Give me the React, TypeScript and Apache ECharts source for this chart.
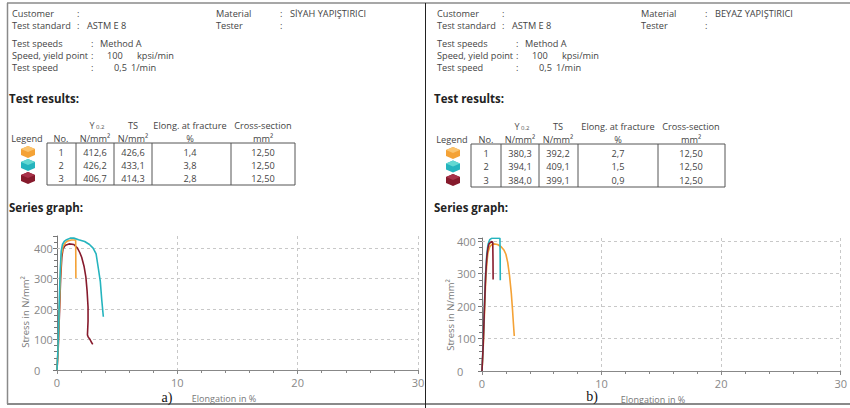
import React, { useEffect, useRef } from "react";
import * as echarts from "echarts";

// ---------- data ----------
const materialA = "SİYAH YAPIŞTIRICI";
const materialB = "BEYAZ YAPIŞTIRICI";
const sampleNos = ["1", "2", "3"];
const yieldA = ["412,6", "426,2", "406,7"];
const tsA = ["426,6", "433,1", "414,3"];
const elongA = ["1,4", "3,8", "2,8"];
const crossA = ["12,50", "12,50", "12,50"];
const yieldB = ["380,3", "394,1", "384,0"];
const tsB = ["392,2", "409,1", "399,1"];
const elongB = ["2,7", "1,5", "0,9"];
const crossB = ["12,50", "12,50", "12,50"];
const seriesColors = ["#F4A236", "#25B4BE", "#861A2C"];
const seriesTop = ["#FBC46E", "#62D8D2", "#A8324A"];
const xTicks = [0, 10, 20, 30];
const yGridValues = [100, 200, 300, 400];

// stress-strain curves [elongation %, stress N/mm²]
const orangeA = [[0,0],[0.08,60],[0.15,140],[0.22,230],[0.3,320],[0.38,380],[0.5,405],[0.7,418],[0.9,424],[1.2,427],[1.45,427],[1.55,426],[1.56,380],[1.57,302]];
const tealA = [[0,0],[0.07,60],[0.14,150],[0.2,240],[0.27,330],[0.35,390],[0.45,412],[0.6,422],[0.8,428],[1.1,433],[1.4,433],[1.8,428],[2.3,422],[2.7,412],[3.0,400],[3.25,381],[3.45,330],[3.6,290],[3.72,230],[3.85,175]];
const redA = [[0,0],[0.1,70],[0.2,180],[0.3,300],[0.4,370],[0.5,398],[0.7,410],[1.0,414],[1.4,412],[1.7,400],[1.9,385],[2.05,370],[2.25,340],[2.4,305],[2.5,260],[2.58,207],[2.58,160],[2.53,115],[2.6,108],[2.75,100],[2.85,92],[2.97,84]];
const orangeB = [[0,0],[0.1,70],[0.2,170],[0.3,270],[0.4,330],[0.5,365],[0.65,383],[0.85,391],[1.0,392],[1.3,390],[1.6,383],[1.85,372],[2.0,360],[2.15,335],[2.3,295],[2.45,240],[2.55,190],[2.63,145],[2.7,108]];
const tealB = [[0,0],[0.1,90],[0.2,200],[0.3,300],[0.4,360],[0.5,390],[0.65,405],[0.8,409],[1.5,409],[1.52,350],[1.53,280]];
const redB = [[0,0],[0.1,80],[0.2,190],[0.3,290],[0.4,350],[0.5,380],[0.6,393],[0.8,399],[0.9,397],[0.92,340],[0.93,282]];

const FONT = "'Open Sans', 'Noto Sans', sans-serif";
const TXT = "#444";
const FS = 9.2;

function txt(x: number, y: number, s: string, opt: any = {}) {
  return {
    type: "text",
    x,
    y,
    silent: true,
    rotation: opt.rotation || 0,
    style: {
      text: s,
      fill: opt.fill || TXT,
      font: `${opt.bold ? "bold " : ""}${opt.size || FS}px ${opt.family || FONT}`,
      textAlign: opt.align || "left",
      textVerticalAlign: "middle",
      verticalAlign: "middle",
    },
  };
}

function cube(cx: number, cy: number, c: string, top: string) {
  return [
    {
      type: "polygon",
      silent: true,
      shape: { points: [[cx, cy - 6], [cx + 7, cy - 3], [cx + 7, cy + 3], [cx, cy + 6], [cx - 7, cy + 3], [cx - 7, cy - 3]] },
      style: { fill: c },
    },
    {
      type: "polygon",
      silent: true,
      shape: { points: [[cx, cy - 6], [cx + 7, cy - 3], [cx, cy], [cx - 7, cy - 3]] },
      style: { fill: top },
    },
  ];
}

function panel(ox: number, material: string, t: any, tbl: any) {
  const g: any[] = [];
  g.push(txt(ox + 12, 13, "Customer"));
  g.push(txt(ox + 77, 13, ":"));
  g.push(txt(ox + 12, 25, "Test standard"));
  g.push(txt(ox + 77, 25, ":"));
  g.push(txt(ox + 87, 25, "ASTM E 8"));
  g.push(txt(ox + 216, 13, "Material"));
  g.push(txt(ox + 280, 13, ":"));
  g.push(txt(ox + 290, 13, material));
  g.push(txt(ox + 216, 25, "Tester"));
  g.push(txt(ox + 280, 25, ":"));
  g.push(txt(ox + 12, 43, "Test speeds"));
  g.push(txt(ox + 91, 43, ":"));
  g.push(txt(ox + 100, 43, "Method A"));
  g.push(txt(ox + 12, 55, "Speed, yield point"));
  g.push(txt(ox + 91, 55, ":"));
  g.push(txt(ox + 107, 55, "100"));
  g.push(txt(ox + 137, 55, "kpsi/min"));
  g.push(txt(ox + 12, 67, "Test speed"));
  g.push(txt(ox + 91, 67, ":"));
  g.push(txt(ox + 114, 67, "0,5"));
  g.push(txt(ox + 131, 67, "1/min"));
  g.push(txt(ox + 9, 98, "Test results:", { bold: true, size: 11.5, fill: "#222" }));
  g.push(txt(ox + 9, 207, "Series graph:", { bold: true, size: 11.5, fill: "#222" }));

  // table
  const c = tbl.centers;
  const h1 = tbl.top - 18, h2 = tbl.top - 5;
  g.push(txt(c[1] - 3, h1, "Y", { align: "center", size: 9, fill: "#555" }));
  g.push(txt(c[1] + 1, h1 + 2, "0.2", { align: "left", size: 6, fill: "#555" }));
  g.push(txt(c[2], h1, "TS", { align: "center" }));
  g.push(txt(c[3], h1, "Elong. at fracture", { align: "center" }));
  g.push(txt(c[4], h1, "Cross-section", { align: "center" }));
  g.push(txt(ox + 27, h2, "Legend", { align: "center" }));
  g.push(txt(c[0], h2, "No.", { align: "center" }));
  g.push(txt(c[1], h2, "N/mm²", { align: "center" }));
  g.push(txt(c[2], h2, "N/mm²", { align: "center" }));
  g.push(txt(c[3], h2, "%", { align: "center" }));
  g.push(txt(c[4], h2, "mm²", { align: "center" }));
  g.push({
    type: "rect",
    silent: true,
    shape: { x: tbl.left, y: tbl.top, width: tbl.right - tbl.left, height: tbl.bottom - tbl.top },
    style: { fill: "none", stroke: "#555", lineWidth: 1 },
  });
  tbl.seps.forEach((sx: number) =>
    g.push({ type: "line", silent: true, shape: { x1: sx, y1: tbl.top, x2: sx, y2: tbl.bottom }, style: { stroke: "#555", lineWidth: 1 } })
  );
  sampleNos.forEach((no, i) => {
    const ry = tbl.top + 9 + i * tbl.rowH;
    g.push(...cube(ox + 28, ry, seriesColors[i], seriesTop[i]));
    g.push(txt(c[0], ry, no, { align: "center" }));
    g.push(txt(c[1], ry, t.y[i], { align: "center" }));
    g.push(txt(c[2], ry, t.ts[i], { align: "center" }));
    g.push(txt(c[3], ry, t.el[i], { align: "center" }));
    g.push(txt(c[4], ry, t.cs[i], { align: "center" }));
  });
  return g;
}

export default function App() {
  const ref = useRef<HTMLDivElement>(null);
  useEffect(() => {
    if (!ref.current) return;
    const chart = echarts.init(ref.current, null, { renderer: "svg" });

    const graphic: any[] = [];
    // borders
    graphic.push({ type: "line", silent: true, shape: { x1: 7.5, y1: 3, x2: 7.5, y2: 404 }, style: { stroke: "#8a8a8a", lineWidth: 1.5 } });
    graphic.push({ type: "line", silent: true, shape: { x1: 7, y1: 3, x2: 850, y2: 3 }, style: { stroke: "#8a8a8a", lineWidth: 1.5 } });
    graphic.push({ type: "line", silent: true, shape: { x1: 7, y1: 404, x2: 850, y2: 404 }, style: { stroke: "#8a8a8a", lineWidth: 2 } });
    graphic.push({ type: "line", silent: true, shape: { x1: 425.5, y1: 3, x2: 425.5, y2: 408 }, style: { stroke: "#222", lineWidth: 1 } });

    graphic.push(
      ...panel(0, materialA, { y: yieldA, ts: tsA, el: elongA, cs: crossA }, {
        left: 47, right: 295, top: 143, bottom: 185, rowH: 13,
        seps: [76, 114, 152, 231], centers: [61, 95, 133, 190, 263],
      })
    );
    graphic.push(
      ...panel(425, materialB, { y: yieldB, ts: tsB, el: elongB, cs: crossB }, {
        left: 471, right: 725, top: 144, bottom: 187, rowH: 13.5,
        seps: [501, 539, 578, 658], centers: [486, 520, 558, 618, 691],
      })
    );
    // axis names & captions
    graphic.push(txt(25, 312, "Stress in N/mm²", { rotation: Math.PI / 2, align: "center", size: 9.5, fill: "#777" }));
    graphic.push(txt(450, 315, "Stress in N/mm²", { rotation: Math.PI / 2, align: "center", size: 9.5, fill: "#777" }));
    graphic.push(txt(224, 398, "Elongation in %", { align: "center", size: 9, fill: "#777" }));
    graphic.push(txt(653, 399, "Elongation in %", { align: "center", size: 9, fill: "#777" }));
    graphic.push(txt(167, 397, "a)", { align: "center", size: 14, fill: "#111", family: "'Liberation Serif', 'DejaVu Serif', serif" }));
    graphic.push(txt(592, 396, "b)", { align: "center", size: 14, fill: "#111", family: "'Liberation Serif', 'DejaVu Serif', serif" }));

    const xAxisBase = (gi: number) => ({
      type: "value",
      gridIndex: gi,
      min: xTicks[0],
      max: xTicks[xTicks.length - 1],
      interval: 10,
      axisLine: { show: true, lineStyle: { color: "#888", width: 1 } },
      axisTick: { show: true, length: 4, lineStyle: { color: "#888" } },
      minorTick: { show: true, splitNumber: 5, length: 3, lineStyle: { color: "#888" } },
      splitLine: { show: true, lineStyle: { color: "#c8c8c8", type: [3, 3] } },
      axisLabel: { color: "#888", fontSize: 11, fontFamily: FONT, margin: 7 },
    });
    const yAxisBase = (gi: number, max: number, margin: number) => ({
      type: "value",
      gridIndex: gi,
      min: 0,
      max,
      interval: 100,
      axisLine: { show: true, lineStyle: { color: "#777", width: 1 } },
      axisTick: { show: true, length: 4, lineStyle: { color: "#777" } },
      minorTick: { show: true, splitNumber: 5, length: 3, lineStyle: { color: "#777" } },
      splitLine: { show: false },
      axisLabel: { color: "#888", fontSize: 11, fontFamily: FONT, margin, align: "left", showMaxLabel: false },
    });

    const line = (data: number[][], color: string, xi: number, grid = false) => ({
      type: "line",
      xAxisIndex: xi,
      yAxisIndex: xi,
      data,
      showSymbol: false,
      symbol: "none",
      lineStyle: { color, width: 1.6 },
      z: 5,
      markLine: grid
        ? {
            silent: true,
            symbol: "none",
            label: { show: false },
            lineStyle: { color: "#c8c8c8", type: [3, 3], width: 1 },
            data: yGridValues.map((v) => ({ yAxis: v })),
            z: 1,
          }
        : undefined,
    });

    chart.setOption({
      animation: false,
      backgroundColor: "#fff",
      grid: [
        { left: 57, top: 236, width: 361, height: 134 },
        { left: 482, top: 238, width: 370, height: 133 },
      ],
      xAxis: [xAxisBase(0), xAxisBase(1)],
      yAxis: [yAxisBase(0, 440, 23), yAxisBase(1, 410, 25)],
      series: [
        line(redA, seriesColors[2], 0, true),
        line(orangeA, seriesColors[0], 0),
        line(tealA, seriesColors[1], 0),
        line(orangeB, seriesColors[0], 1, true),
        line(tealB, seriesColors[1], 1),
        line(redB, seriesColors[2], 1),
      ],
      graphic,
    });
    return () => chart.dispose();
  }, []);
  return <div ref={ref} style={{ position: "absolute", left: 0, top: 0, width: 850, height: 408 }} />;
}
